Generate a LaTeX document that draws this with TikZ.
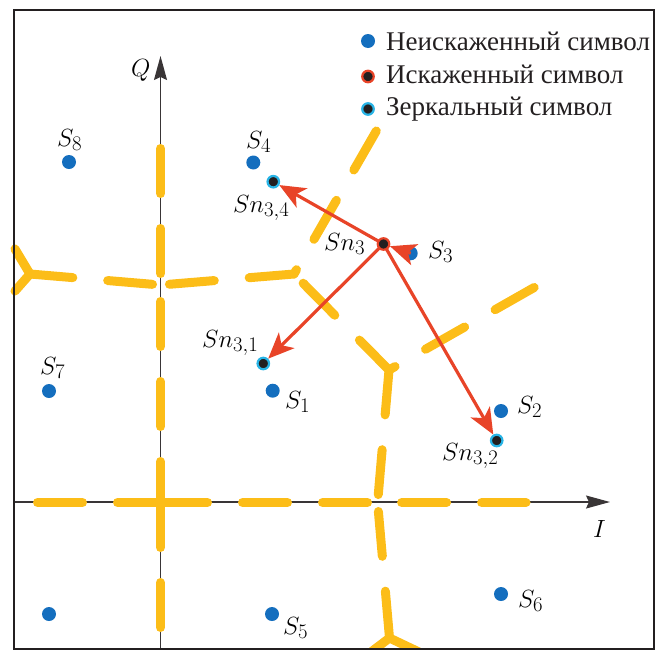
\documentclass[tikz,border=0pt]{standalone}
\usepackage{fontspec}
\setmainfont{Liberation Serif}
\usetikzlibrary{arrows.meta}
\pgfdeclarelayer{bglayer}
\pgfdeclarelayer{arrlayer}
\pgfsetlayers{bglayer,arrlayer,main}
\definecolor{ublue}{RGB}{20,110,190}
\definecolor{ured}{RGB}{232,68,40}
\definecolor{ucyan}{RGB}{40,180,230}
\definecolor{uyellow}{RGB}{252,189,24}
\definecolor{udark}{RGB}{35,31,32}
\tikzset{
  sym/.style={circle, fill=ublue, inner sep=0pt, minimum size=14pt},
  distorted/.style={circle, fill=udark, draw=ured, line width=2.2pt, inner sep=0pt, minimum size=11.5pt},
  mirrorpt/.style={circle, fill=udark, draw=ucyan, line width=2.2pt, inner sep=0pt, minimum size=11.5pt},
  lbl/.style={anchor=base west, inner sep=0pt, font=\fontsize{28}{30}\selectfont},
  leg/.style={anchor=base west, inner sep=0pt, font=\fontsize{27}{30}\selectfont, text=udark},
  bound/.style={draw=uyellow, line width=9pt, line cap=round, line join=round, dash pattern=on 45pt off 35pt},
  solidbound/.style={draw=uyellow, line width=9pt, line cap=round, line join=round},
  axisline/.style={draw=udark!90, line width=1.3pt, -{Stealth[length=24pt,width=13pt,inset=3pt]}},
  shiftarrow/.style={draw=ured, line width=3.2pt, -{Stealth[length=26pt,width=22pt,inset=7pt]}},
}
\begin{document}
\begin{tikzpicture}[x=1pt,y=-1pt]
\useasboundingbox (0,0) rectangle (660,651);
% Voronoi vertices
\coordinate (V1) at (160.5,285);
\coordinate (V3) at (160.5,502.5);
\coordinate (V2) at (377.6,502.5);
\coordinate (J1) at (30,274);
\coordinate (J2) at (294,274);
\coordinate (J3) at (389,370);
\coordinate (J4) at (389.5,638);
\coordinate (eL) at (14,502.5);
\coordinate (eR) at (526,502.5);
\coordinate (eT) at (160.5,140);
\coordinate (eB) at (160.5,660);
\coordinate (a1) at (15,249);
\coordinate (a2) at (15,291);
\coordinate (eBC) at (378,128);
\coordinate (eCF) at (535,287);
\coordinate (b1) at (371,652);
\coordinate (b2) at (419,652);
% axes
\coordinate (iS) at (14,502);
\coordinate (iE) at (610,502);
\coordinate (qS) at (160.5,649);
\coordinate (qE) at (160.5,56);
\begin{pgfonlayer}{bglayer}
  \draw[axisline] (iS) -- (iE);
  \draw[axisline] (qS) -- (qE);
  \begin{scope}
    \clip (0,10) rectangle (654,649);
    \draw[bound, dash phase=2pt] (V3) -- (eL);
    \draw[bound, dash phase=78pt] (V3) -- (V2);
    \draw[bound, dash phase=56pt] (V2) -- (eR);
    \draw[bound, dash phase=68.5pt] (V1) -- (eT);
    \draw[bound, dash phase=63.5pt] (V1) -- (V3);
    \draw[bound, dash phase=0pt] (V3) -- (eB);
    \draw[bound, dash phase=72pt] (V1) -- (J1);
    \draw[solidbound] (a1) -- (J1) -- (a2);
    \draw[bound, dash phase=0pt] (J2) -- (V1);
    \draw[bound, dash phase=40pt] (J2) -- (eBC);
    \draw[bound, dash phase=67pt] (J2) -- (J3);
    \draw[bound, dash phase=0pt] (J3) -- (V2);
    \draw[bound, dash phase=71pt] (V2) -- (J4);
    \draw[solidbound] (b1) -- (J4) -- (b2);
    \draw[bound, dash phase=38pt] (J3) -- (eCF);
  \end{scope}
  % undistorted symbols
  \node[sym] (s1) at (272.7,390.7) {};
  \node[sym] (s2) at (501,411) {};
  \node[sym] (s3) at (410.7,253.3) {};
  \node[sym] (s4) at (253.3,162.5) {};
  \node[sym] (s5) at (272,614) {};
  \node[sym] (s6) at (501,594) {};
  \node[sym] (s7) at (49,391) {};
  \node[sym] (s8) at (69,162) {};
  \node[sym] (s9) at (49,614) {};
  \node[sym] (legA) at (368,41) {};
\end{pgfonlayer}
% distorted and mirror symbols
\node[distorted] (sn3) at (383.5,244) {};
\node[mirrorpt] (sn34) at (273.3,181.7) {};
\node[mirrorpt] (sn31) at (263.3,363.5) {};
\node[mirrorpt] (sn32) at (496.7,440.5) {};
\node[distorted] (legB) at (368,76.5) {};
\node[mirrorpt] (legC) at (368,109) {};
\begin{pgfonlayer}{arrlayer}
  \draw[shiftarrow] (s3.center) -- (sn3);
  \draw[shiftarrow] (sn3.center) -- (sn34);
  \draw[shiftarrow] (sn3.center) -- (sn31);
  \draw[shiftarrow] (sn3.center) -- (sn32);
\end{pgfonlayer}
% labels
\node[lbl] (l8) at (57,146) {$S_8$};
\node[lbl] (l4) at (246,148) {$S_4$};
\node[lbl] (l34) at (233,212) {$Sn_{3,4}$};
\node[lbl] (l3n) at (324,250) {$Sn_3$};
\node[lbl] (l3) at (428,258) {$S_3$};
\node[lbl] (l31) at (202,347) {$Sn_{3,1}$};
\node[lbl] (l1) at (285,408) {$S_1$};
\node[lbl] (l7) at (40,374) {$S_7$};
\node[lbl] (l2) at (517,413) {$S_2$};
\node[lbl] (l32) at (442,460) {$Sn_{3,2}$};
\node[lbl] (l5) at (283,634) {$S_5$};
\node[lbl] (l6) at (518,607) {$S_6$};
\node[lbl] (lq) at (131,76) {$Q$};
\node[lbl] (li) at (593,537) {$I$};
% legend
\node[leg] (tA) at (386,50) {Неискаженный символ};
\node[leg] (tB) at (386,83.5) {Искаженный символ};
\node[leg] (tC) at (386,115.5) {Зеркальный символ};
% frame
\draw[udark, line width=2pt] (14,10) rectangle (654,649);
\end{tikzpicture}
\end{document}
